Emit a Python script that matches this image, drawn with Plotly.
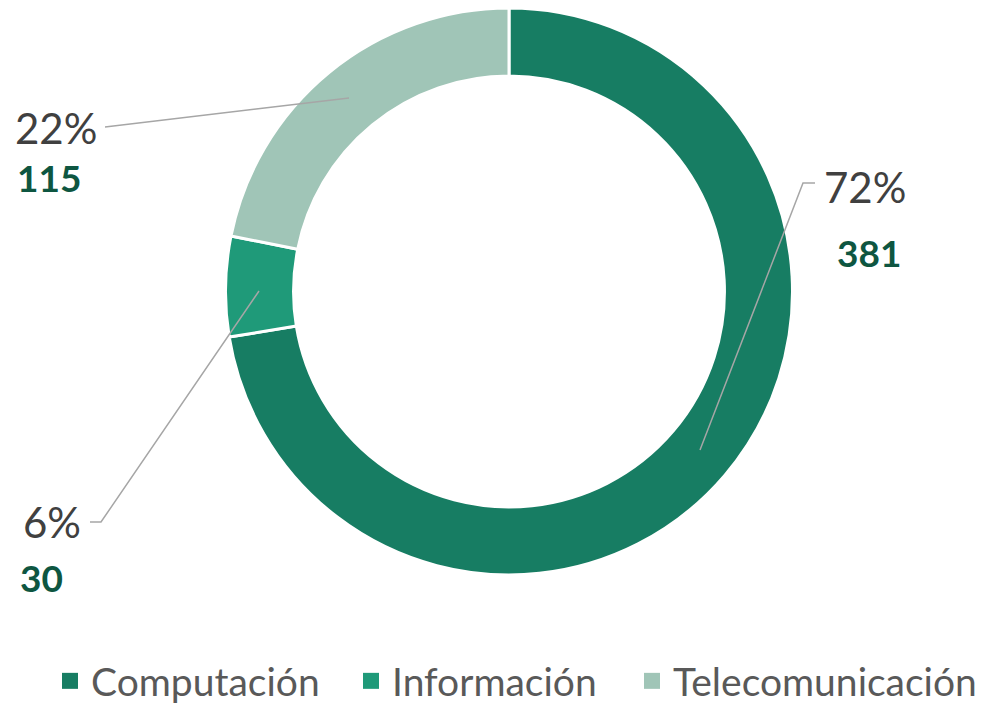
import plotly.graph_objects as go

categories = ["Computación", "Información", "Telecomunicación"]
values = [381, 30, 115]
colors = ["#177D63", "#1F9A79", "#A0C5B7"]

W, H = 989, 705
OFF = 8  # page body margin offset
total = sum(values)
pcts = [f"{round(v / total * 100)}%" for v in values]

def px(x):
    return (x - OFF) / W

def py(y):
    return min(1.0, 1 - (y - OFF) / H)

fig = go.Figure(go.Pie(
    labels=categories, values=values, hole=0.76, sort=False,
    direction="clockwise", rotation=0,
    marker=dict(colors=colors, line=dict(color="white", width=3)),
    textinfo="none", hoverinfo="label+value+percent", showlegend=False,
    domain=dict(x=[px(225), px(793)], y=[py(575), py(7)]),
))

# legend entries (square swatches), one legend box per entry
legend_ids = ["legend", "legend2", "legend3"]
legend_left = [49, 350, 631]
for name, col, lid in zip(categories, colors, legend_ids):
    fig.add_trace(go.Scatter(x=[None], y=[None], mode="markers", name=name,
                             marker=dict(symbol="square", size=20, color=col),
                             hoverinfo="skip", legend=lid))

# leader lines (layout, in pixel-like paper coords)
leaders = [
    [(700, 450), (803, 183), (815, 183)],
    [(259, 291), (101, 522), (90, 522)],
    [(349, 98), (105, 127)],
]
for pts in leaders:
    path = "M " + " L ".join(f"{px(x)},{py(y)}" for x, y in pts)
    fig.add_shape(type="path", path=path, xref="paper", yref="paper",
                  line=dict(color="#A6A6A6", width=1.5))

label_pos = [((865, 187), (869, 253)), ((52, 522), (41, 577)), ((56, 128), (49, 177))]
for i, ((pxy, vxy)) in enumerate(label_pos):
    fig.add_annotation(x=px(pxy[0]), y=py(pxy[1]), xref="paper", yref="paper",
                       text=pcts[i], showarrow=False, xanchor="center", yanchor="middle",
                       font=dict(size=42, color="#404040", family="Lato"))
    fig.add_annotation(x=px(vxy[0]), y=py(vxy[1]), xref="paper", yref="paper",
                       text=f"<b>{values[i]}</b>", showarrow=False, xanchor="center", yanchor="middle",
                       font=dict(size=37, color="#0E5641", family="Lato"))

legend_style = dict(orientation="h", xanchor="left", y=0, yanchor="bottom",
                    font=dict(size=39, color="#595959", family="Lato"),
                    itemwidth=32, bgcolor="rgba(0,0,0,0)")

fig.update_layout(
    width=W, height=H,
    margin=dict(l=0, r=0, t=0, b=0),
    paper_bgcolor="white", plot_bgcolor="white",
    xaxis=dict(visible=False), yaxis=dict(visible=False),
    showlegend=True,
    legend=dict(x=px(legend_left[0]), **legend_style),
    legend2=dict(x=px(legend_left[1]), **legend_style),
    legend3=dict(x=px(legend_left[2]), **legend_style),
)

fig.write_html("out.html")
